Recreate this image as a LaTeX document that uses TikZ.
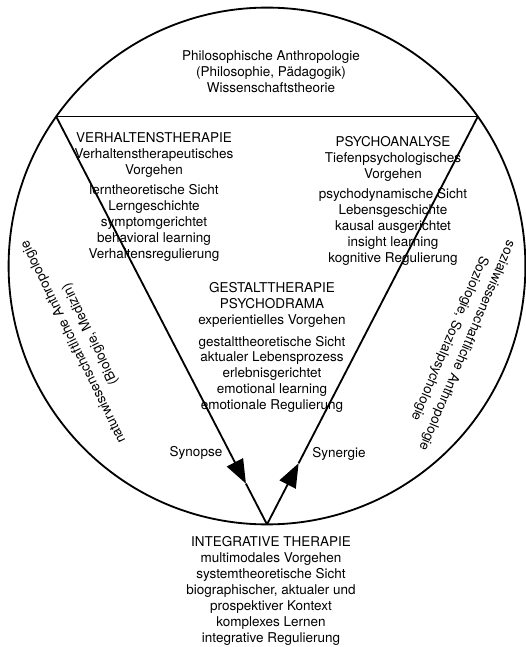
\documentclass[tikz,border=0pt]{standalone}
\usepackage{fontspec}
\setmainfont{TeX Gyre Heros}
\usetikzlibrary{arrows.meta,positioning,calc}

\begin{document}
\begin{tikzpicture}[
  font=\fontsize{9.6}{11.3}\selectfont,
  txt/.style={align=center,inner sep=0pt},
  edge/.style={line width=1.3pt},
  arrow/.style={edge,-{Triangle[length=0.6cm,width=0.45cm]}}
]
\useasboundingbox (-6.675,-9.525) rectangle (6.45,6.65);

% circle, chord and triangle corners
\draw[edge] (0,0) circle (6.46);
\coordinate (vl) at (144.67:6.46);
\coordinate (vr) at (35.33:6.46);
\coordinate (bottom) at (0,-6.46);
\coordinate (synopsetip) at ($(vl)!0.9!(bottom)$);
\coordinate (synergietip) at ($(bottom)!0.15!(vr)$);

\node[txt] (philo) at (0.1,4.85) {Philosophische Anthropologie\\(Philosophie, Pädagogik)\\Wissenschaftstheorie};
\node[txt] (vt) at (-2.825,1.725) {VERHALTENSTHERAPIE\\Verhaltenstherapeutisches\\Vorgehen\\[3pt]
  lerntheoretische Sicht\\Lerngeschichte\\symptomgerichtet\\behavioral learning\\Verhaltensregulierung};
\node[txt] (pa) at (3.15,1.625) {PSYCHOANALYSE\\Tiefenpsychologisches\\Vorgehen\\[3pt]
  psychodynamische Sicht\\Lebensgeschichte\\kausal ausgerichtet\\insight learning\\kognitive Regulierung};
\node[txt] (gt) at (0.125,-2.04) {GESTALTTHERAPIE\\PSYCHODRAMA\\experientielles Vorgehen\\[4pt]
  gestalttheoretische Sicht\\aktualer Lebensprozess\\erlebnisgerichtet\\emotional learning\\emotionale Regulierung};
\node[txt] (it) at (0.1,-8.125) {INTEGRATIVE THERAPIE\\multimodales Vorgehen\\systemtheoretische Sicht\\biographischer, aktualer und\\prospektiver Kontext\\komplexes Lernen\\integrative Regulierung};

\node[txt,rotate=116] (natur) at (-4.625,-1.8) {naturwissenschaftliche Anthropologie\\[2pt](Biologie, Medizin)};
\node[txt,rotate=-113] (sozial) at (4.775,-1.9) {sozialwissenschaftliche Anthropologie\\[2pt]Soziologie, Sozialpsychologie};

\node[txt] (synopse) at (-1.775,-4.675) {Synopse};
\node[txt] (synergie) at (1.8,-4.7) {Synergie};

\draw[edge] (vl) -- (vr);
\draw[arrow] (vl) -- (synopsetip);
\draw[edge] (synopsetip) -- (bottom);
\draw[arrow] (bottom) -- (synergietip);
\draw[edge] (synergietip) -- (vr);
\end{tikzpicture}
\end{document}
